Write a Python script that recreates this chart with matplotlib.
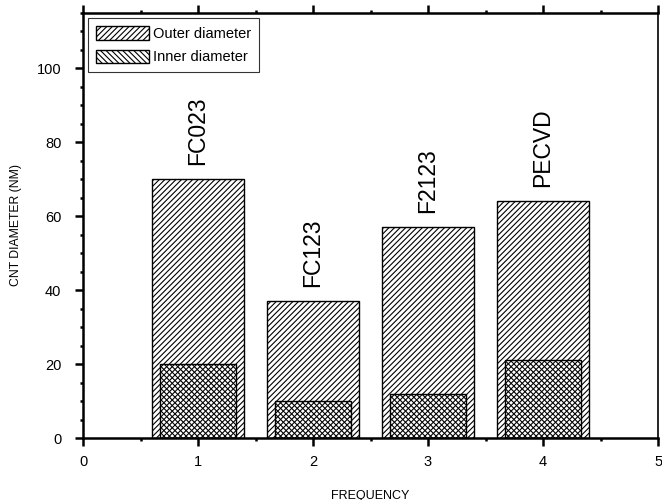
import matplotlib
matplotlib.use("Agg")
import matplotlib.pyplot as plt
from matplotlib.ticker import MultipleLocator

plt.rcParams['font.family'] = ['Liberation Sans', 'DejaVu Sans']
plt.rcParams['hatch.linewidth'] = 0.8

positions = [1, 2, 3, 4]
outer_diameter = [70, 37, 57, 64]
inner_diameter = [20, 10, 12, 21]
bar_labels = ["FC023", "FC123", "F2123", "PECVD"]

fig = plt.figure(figsize=(6.62, 5.0), dpi=100)
ax = fig.add_axes([0.1254, 0.124, 0.8686, 0.85])

ax.bar(positions, outer_diameter, width=0.8, facecolor='white', edgecolor='black',
       hatch='//////', linewidth=1.0, label='Outer diameter', zorder=2)
ax.bar(positions, inner_diameter, width=0.66, facecolor='none', edgecolor='black',
       hatch='\\\\\\\\\\\\', linewidth=1.0, label='Inner diameter', zorder=3)

for x, v, t in zip(positions, outer_diameter, bar_labels):
    ax.text(x, v + 3.8, t, rotation=90, ha='center', va='bottom', fontsize=16.5)

ax.set_xlim(0, 5)
ax.set_ylim(0, 115)
ax.xaxis.set_major_locator(MultipleLocator(1))
ax.xaxis.set_minor_locator(MultipleLocator(0.5))
ax.yaxis.set_major_locator(MultipleLocator(20))
ax.yaxis.set_minor_locator(MultipleLocator(5))

for s in ['left', 'bottom', 'top', 'right']:
    ax.spines[s].set_linewidth(1.8)
ax.spines['right'].set_linewidth(1.2)

ax.tick_params(axis='both', which='major', direction='out', length=5.5, width=1.8, labelsize=10.5)
ax.tick_params(axis='both', which='minor', direction='out', length=2.5, width=1.8)
ax.tick_params(axis='x', which='both', top=True)
ax.tick_params(axis='x', which='major', pad=7)
ax.tick_params(axis='y', which='major', pad=10)

ax.set_xlabel('FREQUENCY', fontsize=9, labelpad=14.5)
ax.set_ylabel('CNT DIAMETER (NM)', fontsize=8.8, labelpad=10.5)

leg = ax.legend(loc='upper left', fontsize=10.5, frameon=True, fancybox=False,
                edgecolor='black', handlelength=3.6, handleheight=1.05,
                borderaxespad=0.35, borderpad=0.55, handletextpad=0.3,
                labelspacing=0.6)
leg.get_frame().set_linewidth(0.8)

fig.savefig('out.png', dpi=100)
